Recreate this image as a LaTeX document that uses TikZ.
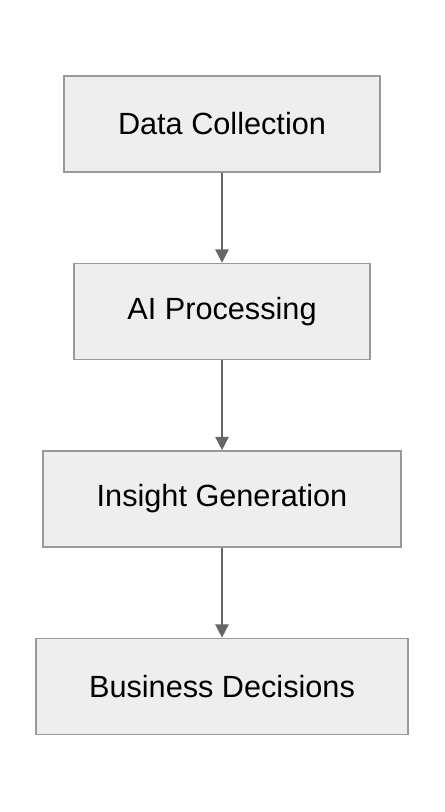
\documentclass[tikz,border=0pt]{standalone}
\usepackage{fontspec}
\setmainfont{Liberation Sans}
\usepackage{tikz}
\usepackage{xcolor}
\usetikzlibrary{positioning,arrows.meta}

\definecolor{boxfill}{HTML}{EEEEEE}
\definecolor{boxline}{HTML}{999999}
\definecolor{arrowline}{HTML}{666666}

\begin{document}
\begin{tikzpicture}[node distance=67.5pt]
    \tikzstyle{every node}=[draw=boxline,fill=boxfill,line width=1.1pt,minimum height=72pt,inner sep=0pt,font=\fontsize{23}{27}\selectfont]
    \tikzstyle{flow}=[draw=arrowline,line width=1.1pt,-{Triangle[length=10pt,width=10pt]}]

    \useasboundingbox (0,0) rectangle (333pt,-609pt);

    \node[minimum width=237pt] (data) at (166.5pt,-93pt) {Data Collection};
    \node[minimum width=222pt,below=of data] (ai) {AI Processing};
    \node[minimum width=268.5pt,below=of ai] (insight) {Insight Generation};
    \node[minimum width=279pt,below=of insight] (business) {Business Decisions};

    % arrows between the steps
    \draw[flow] (data)--(ai);
    \draw[flow] (ai)--(insight);
    \draw[flow] (insight)--(business);

\end{tikzpicture}
\end{document}
